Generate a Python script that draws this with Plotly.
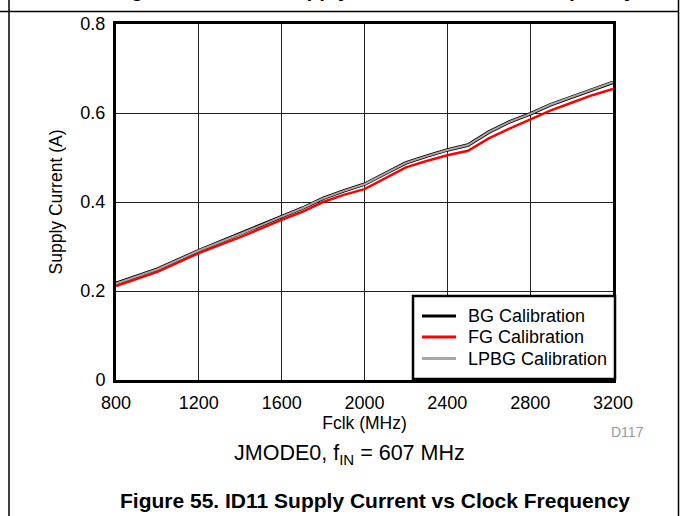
import plotly.graph_objects as go

fclk = [800, 1000, 1200, 1400, 1600, 1700, 1800, 1900, 2000, 2100, 2200,
        2300, 2400, 2500, 2600, 2700, 2800, 2900, 3000, 3100, 3200]
bg_cal = [0.217, 0.249, 0.291, 0.328, 0.367, 0.386, 0.408, 0.425, 0.440, 0.464, 0.488,
          0.503, 0.517, 0.528, 0.557, 0.580, 0.598, 0.619, 0.636, 0.653, 0.669]
fg_cal = [0.211, 0.243, 0.285, 0.321, 0.360, 0.378, 0.400, 0.416, 0.429, 0.453, 0.478,
          0.492, 0.505, 0.515, 0.543, 0.565, 0.585, 0.606, 0.623, 0.640, 0.654]
lpbg_cal = [0.217, 0.249, 0.291, 0.328, 0.367, 0.386, 0.408, 0.425, 0.440, 0.464, 0.488,
            0.503, 0.517, 0.528, 0.557, 0.580, 0.598, 0.619, 0.636, 0.653, 0.669]
series_names = ["BG Calibration", "FG Calibration", "LPBG Calibration"]
series_colors = ["#000000", "#ff0000", "#a6a6a6"]
x_ticks = [800, 1200, 1600, 2000, 2400, 2800, 3200]
y_ticks = [0, 0.2, 0.4, 0.6, 0.8]
y_ticktext = ["0", "0.2", "0.4", "0.6", "0.8"]

FONT = "Liberation Sans, Arial, sans-serif"

fig = go.Figure()
fig.add_trace(go.Scatter(x=fclk, y=bg_cal, mode="lines", name=series_names[0],
                         line=dict(color=series_colors[0], width=3.5)))
fig.add_trace(go.Scatter(x=fclk, y=fg_cal, mode="lines", name=series_names[1],
                         line=dict(color=series_colors[1], width=2.5)))
fig.add_trace(go.Scatter(x=fclk, y=lpbg_cal, mode="lines", name=series_names[2],
                         line=dict(color=series_colors[2], width=2)))

L, R, T, B = 116, 70, 24, 136
W, H = 683, 516
pw, ph = W - L - R, H - T - B

def px(x):
    return (x - L) / pw

def py(y):
    return (H - B - y) / ph

fig.update_layout(
    width=W, height=H, autosize=False,
    margin=dict(l=L, r=R, t=T, b=B, pad=0),
    paper_bgcolor="white", plot_bgcolor="white",
    font=dict(family=FONT, color="black", size=18),
    showlegend=False,
    xaxis=dict(range=[800, 3200], tickvals=x_ticks, ticktext=[str(v) for v in x_ticks],
               showgrid=True, gridcolor="#222222", gridwidth=1,
               showline=True, linecolor="black", linewidth=3, mirror=True,
               ticks="", zeroline=False, ticklabelstandoff=4,
               tickfont=dict(size=18, family=FONT),
               title=dict(text="Fclk (MHz)", font=dict(size=17.5, family=FONT), standoff=4)),
    yaxis=dict(range=[0, 0.8], tickvals=y_ticks, ticktext=y_ticktext,
               showgrid=True, gridcolor="#222222", gridwidth=1,
               showline=True, linecolor="black", linewidth=3, mirror=True,
               ticks="", zeroline=False, ticklabelstandoff=4,
               tickfont=dict(size=18, family=FONT),
               title=dict(text="Supply Current (A)", font=dict(size=17.5, family=FONT), standoff=14)),
)

annotations = [
    dict(text="D117", x=px(627), y=py(432), xref="paper", yref="paper",
         showarrow=False, font=dict(size=14, color="#9a9a9a", family=FONT),
         xanchor="center", yanchor="middle"),
    dict(text="JMODE0, f<sub>IN</sub> = 607 MHz", x=px(349), y=py(454), xref="paper", yref="paper",
         showarrow=False, font=dict(size=21.5, family=FONT),
         xanchor="center", yanchor="middle"),
    dict(text="<b>Figure 55. ID11 Supply Current vs Clock Frequency</b>", x=px(375), y=py(500),
         xref="paper", yref="paper", showarrow=False, font=dict(size=21, family=FONT),
         xanchor="center", yanchor="middle"),
    dict(text="<b>Figure 54. IVA19 Supply Current vs Clock Frequency</b>", x=px(374), y=py(3.5),
         xref="paper", yref="paper", showarrow=False, font=dict(size=21, family=FONT),
         xanchor="center", yanchor="bottom"),
]

shapes = [
    dict(type="line", xref="paper", yref="paper", x0=px(0), x1=px(679), y0=py(11.5), y1=py(11.5),
         line=dict(color="black", width=1.5)),
    dict(type="line", xref="paper", yref="paper", x0=px(9), x1=px(9), y0=py(0), y1=py(516),
         line=dict(color="black", width=1.5)),
    dict(type="line", xref="paper", yref="paper", x0=px(678.5), x1=px(678.5), y0=py(0), y1=py(516),
         line=dict(color="black", width=1.5)),
    # legend box
    dict(type="rect", xref="paper", yref="paper", x0=px(413), x1=px(615), y0=py(379), y1=py(296),
         fillcolor="white", line=dict(color="black", width=2.5), layer="above"),
]

legend_rows = [316, 337, 358.5]
for name, color, row in zip(series_names, series_colors, legend_rows):
    shapes.append(dict(type="line", xref="paper", yref="paper", x0=px(422), x1=px(456),
                       y0=py(row), y1=py(row), line=dict(color=color, width=3), layer="above"))
    annotations.append(dict(text=name, x=px(466), y=py(row), xref="paper", yref="paper",
                            showarrow=False, font=dict(size=18, family=FONT),
                            xanchor="left", yanchor="middle"))

fig.update_layout(annotations=annotations, shapes=shapes)

fig.write_html("out.html", config={"displayModeBar": False},
               post_script="document.body.style.margin='0px';")
